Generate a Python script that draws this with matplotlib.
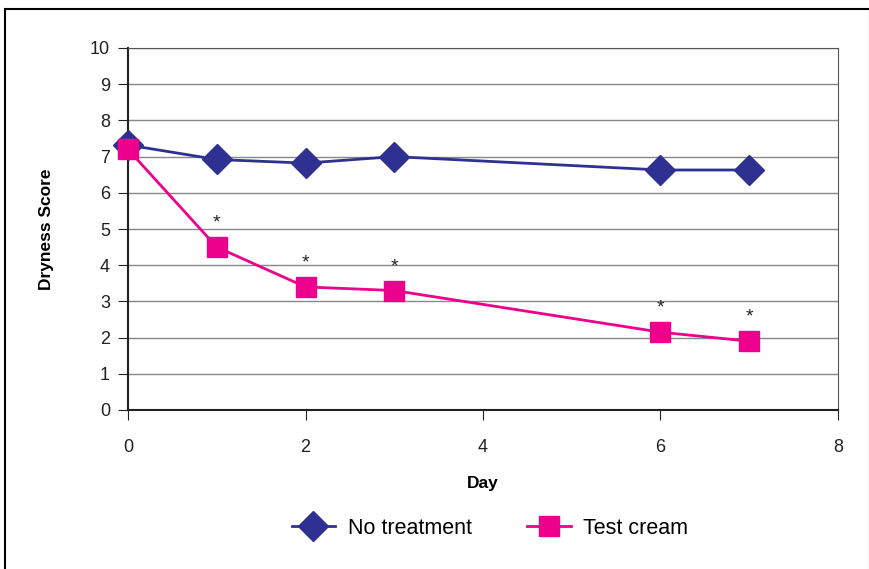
import matplotlib.pyplot as plt
from matplotlib.patches import Rectangle

plt.rcParams['font.family'] = ['Liberation Sans', 'DejaVu Sans']

# data
days = [0, 1, 2, 3, 6, 7]
no_treatment = [7.32, 6.92, 6.82, 7.0, 6.63, 6.63]
test_cream = [7.2, 4.5, 3.4, 3.3, 2.15, 1.9]
signif = [False, True, True, True, True, True]

navy = '#2E3192'
magenta = '#EC008C'

fig = plt.figure(figsize=(8.7, 5.69), dpi=100)
ax = fig.add_axes([128 / 870, 1 - 410 / 569, 710 / 870, 362 / 569])

ax.plot(days, no_treatment, color=navy, lw=2, marker='D', markersize=15,
        label='No treatment', zorder=3, clip_on=False)
ax.plot(days, test_cream, color=magenta, lw=2, marker='s', markersize=14,
        label='Test cream', zorder=4, clip_on=False)

for d, v, s in zip(days, test_cream, signif):
    if s:
        ax.annotate('*', (d, v), xytext=(0, 11), textcoords='offset points',
                    ha='center', va='bottom', fontsize=14, color='#222222')

ax.set_xlim(0, 8)
ax.set_ylim(0, 10)
ax.set_xticks(range(0, 9, 2))
ax.set_yticks(range(0, 11))
ax.yaxis.grid(True, color='#888888', lw=1)
ax.set_axisbelow(True)
for sp in ax.spines.values():
    sp.set_color('#555555')
ax.spines['left'].set_color('#222222')
ax.spines['left'].set_linewidth(1.5)
ax.spines['bottom'].set_color('#222222')
ax.spines['bottom'].set_linewidth(1.5)
ax.tick_params(direction='out', length=7, labelsize=13, colors='#222222')
ax.tick_params(axis='y', pad=6)
ax.tick_params(axis='x', pad=14)

ax.set_xlabel('Day', fontsize=12.5, fontweight='bold', labelpad=14)
ax.set_ylabel('Dryness Score', fontsize=12.5, fontweight='bold', labelpad=26)

ax.legend(loc='center', bbox_to_anchor=(490 / 870, 1 - 528 / 569),
          bbox_transform=fig.transFigure, ncol=2, frameon=False,
          fontsize=15.5, handlelength=2.0, handletextpad=0.6, columnspacing=2.6)

fig.patches.append(Rectangle((5 / 870, -0.05), 865 / 870, 1 - 9 / 569 + 0.05,
                             transform=fig.transFigure, fill=False,
                             edgecolor='black', lw=1.5))

fig.savefig('out.png', dpi=100)
